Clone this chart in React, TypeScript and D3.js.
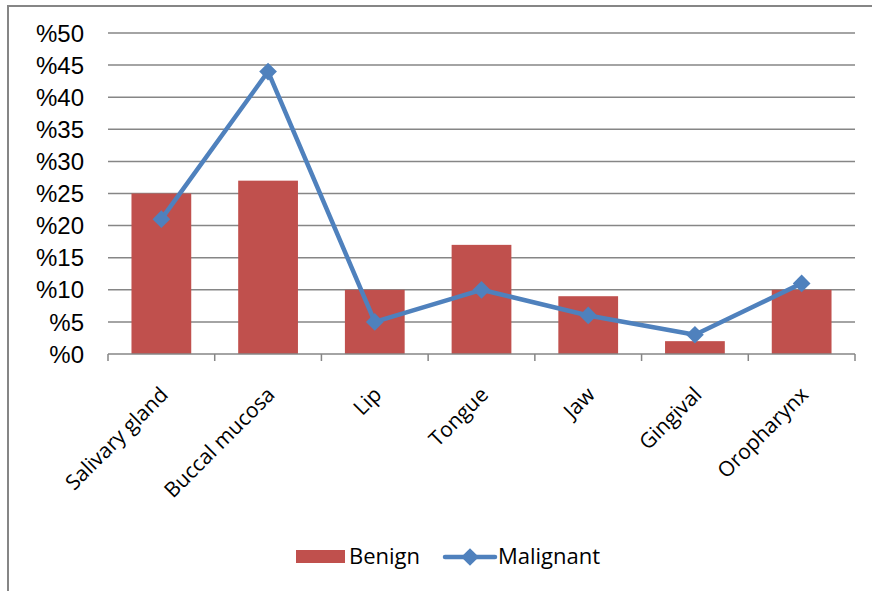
import React, { useEffect, useRef } from "react";
import * as d3 from "d3";

const categories = ["Salivary gland", "Buccal mucosa", "Lip", "Tongue", "Jaw", "Gingival", "Oropharynx"];
const benign = [25, 27, 10, 17, 9, 2, 10];
const malignant = [21, 44, 5, 10, 6, 3, 11];
const yTicks = [0, 5, 10, 15, 20, 25, 30, 35, 40, 45, 50];

const App = () => {
  const ref = useRef<SVGSVGElement>(null);

  useEffect(() => {
    const svg = d3.select(ref.current);
    svg.selectAll("*").remove();

    const left = 108, right = 855, top = 33, bottom = 354;
    const grey = "#868686";

    // outer frame, runs off the right and bottom edge
    svg.append("rect")
      .attr("x", 8).attr("y", 6)
      .attr("width", 900).attr("height", 620)
      .attr("fill", "none").attr("stroke", grey).attr("stroke-width", 2);

    const x = d3.scaleBand().domain(categories).range([left, right]);
    const y = d3.scaleLinear().domain([0, 50]).range([bottom, top]);

    // gridlines
    svg.append("g").selectAll("line")
      .data(yTicks.filter((t) => t > 0))
      .join("line")
      .attr("x1", left).attr("x2", right)
      .attr("y1", (d) => y(d)).attr("y2", (d) => y(d))
      .attr("stroke", grey).attr("stroke-width", 1.5);

    // y labels
    svg.append("g").selectAll("text")
      .data(yTicks)
      .join("text")
      .attr("x", 84).attr("y", (d) => y(d))
      .attr("dy", "0.36em")
      .attr("text-anchor", "end")
      .attr("font-family", "Liberation Sans, Arial, sans-serif")
      .attr("font-size", 24)
      .attr("fill", "#000")
      .text((d) => "%" + d);

    // bars
    const barW = x.bandwidth() * 0.56;
    svg.append("g").selectAll("rect")
      .data(categories)
      .join("rect")
      .attr("x", (d) => x(d)! + (x.bandwidth() - barW) / 2)
      .attr("width", barW)
      .attr("y", (d, i) => y(benign[i]))
      .attr("height", (d, i) => bottom - y(benign[i]))
      .attr("fill", "#C0504D");

    // x axis + ticks
    svg.append("line")
      .attr("x1", left).attr("x2", right)
      .attr("y1", bottom).attr("y2", bottom)
      .attr("stroke", grey).attr("stroke-width", 1.5);
    const edges = categories.map((c) => x(c)!).concat([right]);
    svg.append("g").selectAll("line")
      .data(edges)
      .join("line")
      .attr("x1", (d) => d).attr("x2", (d) => d)
      .attr("y1", bottom).attr("y2", bottom + 7)
      .attr("stroke", grey).attr("stroke-width", 1.5);

    // category labels
    svg.append("g").selectAll("text")
      .data(categories)
      .join("text")
      .attr("transform", (d) => {
        const cx = x(d)! + x.bandwidth() / 2 + 8;
        return `translate(${cx},${bottom + 42}) rotate(-45)`;
      })
      .attr("text-anchor", "end")
      .attr("font-family", "Open Sans, sans-serif")
      .attr("font-size", 21)
      .attr("fill", "#000")
      .text((d) => d);

    // malignant line
    const line = d3.line<number>()
      .x((d, i) => x(categories[i])! + x.bandwidth() / 2)
      .y((d) => y(d));
    svg.append("path")
      .datum(malignant)
      .attr("d", line)
      .attr("fill", "none")
      .attr("stroke", "#4F81BD")
      .attr("stroke-width", 4.5)
      .attr("stroke-linejoin", "round");

    const diamond = d3.symbol().type(d3.symbolDiamond2).size(200);
    svg.append("g").selectAll("path")
      .data(malignant)
      .join("path")
      .attr("transform", (d, i) => `translate(${x(categories[i])! + x.bandwidth() / 2},${y(d)})`)
      .attr("d", diamond)
      .attr("fill", "#4F81BD");

    // legend
    const lg = svg.append("g")
      .attr("font-family", "Open Sans, sans-serif")
      .attr("font-size", 22);
    lg.append("rect")
      .attr("x", 296).attr("y", 550).attr("width", 49).attr("height", 13)
      .attr("fill", "#C0504D");
    lg.append("text").attr("x", 349).attr("y", 564).text("Benign");
    lg.append("line")
      .attr("x1", 445).attr("x2", 495).attr("y1", 557).attr("y2", 557)
      .attr("stroke", "#4F81BD").attr("stroke-width", 4.5).attr("stroke-linecap", "round");
    lg.append("path")
      .attr("transform", "translate(470,557)")
      .attr("d", diamond)
      .attr("fill", "#4F81BD");
    lg.append("text").attr("x", 498).attr("y", 564).text("Malignant");
  }, []);

  return (
    <svg ref={ref} width={872} height={591} style={{ position: "absolute", left: 0, top: 0 }} />
  );
};

export default App;
